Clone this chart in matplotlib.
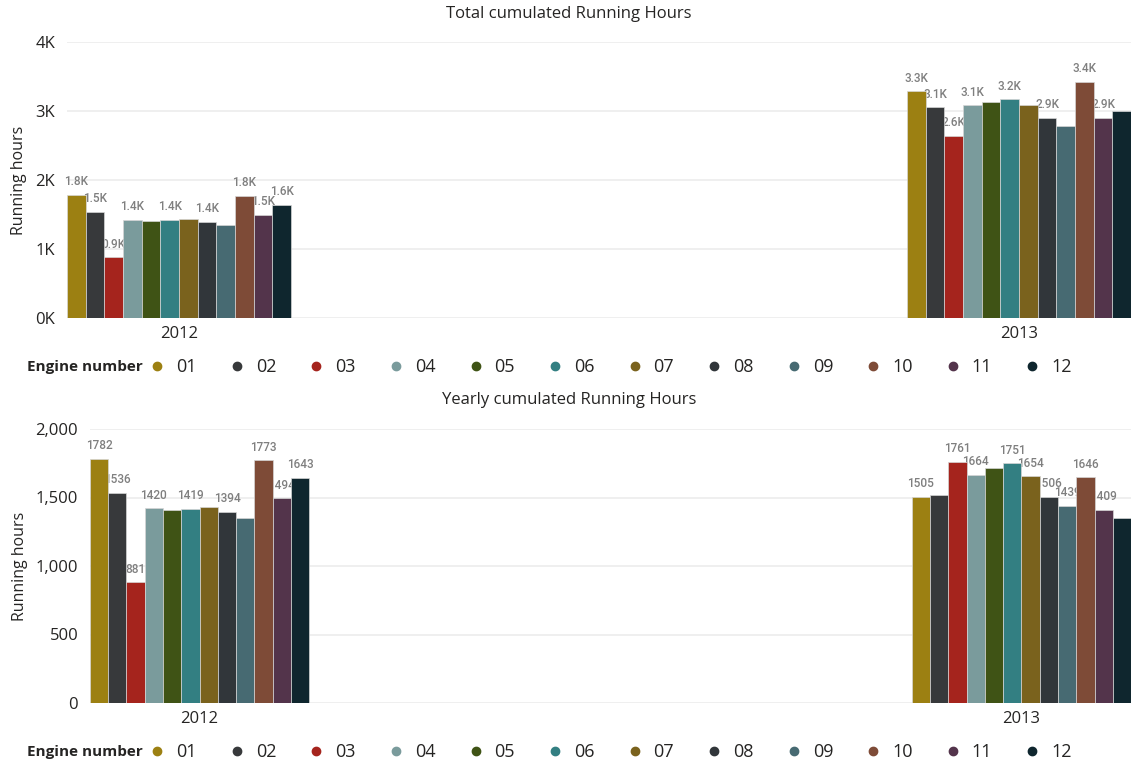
import numpy as np
import matplotlib.pyplot as plt
from matplotlib.lines import Line2D
from matplotlib.ticker import FuncFormatter

plt.rcParams['font.family'] = ['Open Sans', 'DejaVu Sans']

years = ['2012', '2013']
engines = ['01', '02', '03', '04', '05', '06', '07', '08', '09', '10', '11', '12']
colors = ['#9C8012', '#37393B', '#A5241D', '#7A9B9C', '#3F5315', '#337F82',
          '#7A621D', '#31363A', '#476A72', '#7E4B37', '#53344B', '#0F262E']

# running hours per engine, one list per year
yearly_2012 = [1782, 1536, 881, 1420, 1410, 1419, 1428, 1394, 1348, 1773, 1494, 1643]
yearly_2013 = [1505, 1516, 1761, 1664, 1717, 1751, 1654, 1506, 1439, 1646, 1409, 1352]
total_2012 = [1782, 1536, 881, 1420, 1410, 1419, 1428, 1394, 1348, 1773, 1494, 1643]
total_2013 = [3287, 3052, 2642, 3084, 3127, 3170, 3082, 2900, 2787, 3419, 2903, 2995]

# engines that get a data label in each group
total_labelled = [[0, 1, 2, 3, 5, 7, 9, 10, 11], [0, 1, 2, 3, 5, 7, 9, 10]]
yearly_labelled = [[0, 1, 2, 3, 5, 7, 9, 10, 11], [0, 2, 3, 5, 6, 7, 8, 9, 10]]

text_col = '#252423'
label_col = '#7f7f7f'
grid_col = '#ececec'


def draw_panel(ax, series, labelled, ymax, yticks, tickfmt, labelfmt):
    n = len(engines)
    group_w = 0.2667
    w = group_w / n
    x = np.arange(len(years))
    for i in range(n):
        vals = [s[i] for s in series]
        xpos = x - group_w / 2 + w * (i + 0.5)
        ax.bar(xpos, vals, width=w, color=colors[i], edgecolor='#d6d6d6',
               linewidth=0.5, zorder=3)
        for g in range(len(years)):
            if i in labelled[g]:
                ax.text(xpos[g], vals[g] + ymax * 0.024, labelfmt(vals[g]),
                        ha='center', va='bottom', fontsize=8.5, color=label_col,
                        family=['Roboto', 'DejaVu Sans'], fontweight='medium',
                        zorder=2)
    ax.set_xlim(-0.1333, 1.1333)
    ax.set_ylim(0, ymax)
    ax.set_yticks(yticks)
    ax.yaxis.set_major_formatter(FuncFormatter(tickfmt))
    ax.set_xticks(x)
    ax.set_xticklabels(years)
    ax.tick_params(length=0, labelsize=12, colors=text_col)
    ax.tick_params(axis='y', pad=8.5)
    ax.tick_params(axis='x', pad=6)
    ax.grid(axis='y', color=grid_col, linewidth=1.2, zorder=0)
    ax.set_axisbelow(True)
    for s in ax.spines.values():
        s.set_visible(False)
    ax.set_ylabel('Running hours', fontsize=11.5, color=text_col)


fig = plt.figure(figsize=(11.31, 7.65), dpi=100)
ax1 = fig.add_axes([67 / 1131, 1 - 318 / 765, 1 - 67 / 1131, (318 - 42) / 765])
ax2 = fig.add_axes([90 / 1131, 1 - 703 / 765, 1 - 90 / 1131, (703 - 429) / 765])

draw_panel(ax1, [total_2012, total_2013], total_labelled,
           4000, [0, 1000, 2000, 3000, 4000],
           lambda v, p: f'{v / 1000:.0f}K', lambda v: f'{v / 1000:.1f}K')
draw_panel(ax2, [yearly_2012, yearly_2013], yearly_labelled,
           2000, [0, 500, 1000, 1500, 2000],
           lambda v, p: f'{v:,.0f}', lambda v: f'{v}')
ax1.yaxis.set_label_coords(-0.0375, 0.5)
ax2.yaxis.set_label_coords(-0.060, 0.5)

fig.text(569 / 1131, 1 - 14 / 765, 'Total cumulated Running Hours',
         fontsize=12, color=text_col, ha='center', va='center')
fig.text(569 / 1131, 1 - 400 / 765, 'Yearly cumulated Running Hours',
         fontsize=12, color=text_col, ha='center', va='center')

handles = [Line2D([], [], marker='o', linestyle='none', markersize=6,
                  markerfacecolor=c, markeredgecolor=c) for c in colors]
for ycen in (367, 752):
    fy = 1 - ycen / 765
    fig.text(27 / 1131, fy, 'Engine number', fontsize=11, fontweight='bold',
             color=text_col, va='center', ha='left')
    fig.legend(handles, engines, loc='center left', ncol=12, frameon=False,
               bbox_to_anchor=(150 / 1131, fy), fontsize=13,
               handlelength=0.8, handletextpad=0.65, columnspacing=1.82,
               labelcolor=text_col, borderaxespad=0, borderpad=0)

fig.savefig('out.png', dpi=100)
